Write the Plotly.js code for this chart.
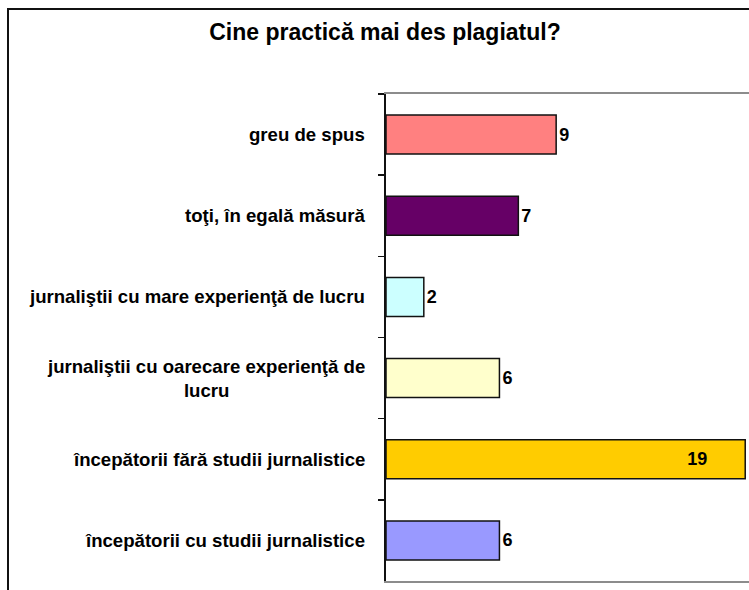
<!DOCTYPE html>
<html>
<head>
<meta charset="utf-8">
<script src="https://cdn.plot.ly/plotly-3.0.1.min.js"></script>
<style>
html,body{margin:0;padding:0;overflow:hidden;background:#fff;}
#wrap{position:relative;width:749px;height:590px;}
#chart{position:absolute;left:0;top:0;width:749px;height:590px;}
#frame{position:absolute;left:7px;top:8px;width:800px;height:700px;border-left:2px solid #111;border-top:2px solid #111;pointer-events:none;}
</style>
</head>
<body>
<div id="wrap"><div id="chart"></div><div id="frame"></div></div>
<script>
const categories = [
  "greu de spus",
  "toţi, în egală măsură",
  "jurnaliştii cu mare experienţă de lucru",
  "jurnaliştii cu oarecare experienţă de<br>lucru",
  "începătorii fără studii jurnalistice",
  "începătorii cu studii jurnalistice"
];
const values = [9, 7, 2, 6, 19, 6];
const barColors = ["#FF8080", "#660066", "#CCFFFF", "#FFFFCC", "#FFCC00", "#9999FF"];
const labelPositions = ["outside", "outside", "outside", "outside", "inside", "outside"];

const fontFam = "Liberation Sans, Arial, sans-serif";

const trace = {
  type: "bar",
  orientation: "h",
  y: categories,
  x: values,
  text: values.map((v, i) => labelPositions[i] === "inside" ? v + "\u00a0\u00a0\u00a0\u00a0\u00a0\u00a0\u00a0" : String(v)),
  textposition: labelPositions,
  insidetextanchor: "end",
  cliponaxis: false,
  textfont: {family: fontFam, size: 18, color: "#000", weight: "bold"},
  insidetextfont: {family: fontFam, size: 18, color: "#000", weight: "bold"},
  outsidetextfont: {family: fontFam, size: 18, color: "#000", weight: "bold"},
  marker: {color: barColors, line: {color: "#111", width: 1.5}},
  hoverinfo: "none"
};

const annotations = categories.map(c => ({
  text: "<b>" + c + "</b>",
  xref: "paper", yref: "y",
  x: 0, y: c,
  xanchor: "right", yanchor: "middle",
  xshift: -19,
  align: "center",
  showarrow: false,
  font: {family: fontFam, size: 18.6, color: "#000"}
}));

const layout = {
  width: 749, height: 590,
  margin: {l: 386, r: 0, t: 94, b: 9, pad: 0},
  paper_bgcolor: "#fff", plot_bgcolor: "#fff",
  showlegend: false,
  bargap: 0.52,
  title: {
    text: "<b>Cine practică mai des plagiatul?</b>",
    font: {family: fontFam, size: 23, color: "#000"},
    x: 385/749, xref: "container", xanchor: "center",
    y: 1 - 32/590, yref: "container", yanchor: "middle"
  },
  xaxis: {
    range: [0, 19.2],
    showgrid: false, zeroline: false,
    showticklabels: false, ticks: "",
    showline: true, linecolor: "#8c8c8c", linewidth: 2, mirror: true
  },
  yaxis: {
    type: "category",
    autorange: "reversed",
    showgrid: false, zeroline: false,
    showticklabels: false,
    ticks: "outside", ticklen: 6, tickwidth: 1.5, tickcolor: "#111",
    tickson: "boundaries",
    showline: true, linecolor: "#111", linewidth: 2
  },
  annotations: annotations
};

Plotly.newPlot("chart", [trace], layout, {displayModeBar: false, staticPlot: true});
</script>
</body>
</html>
